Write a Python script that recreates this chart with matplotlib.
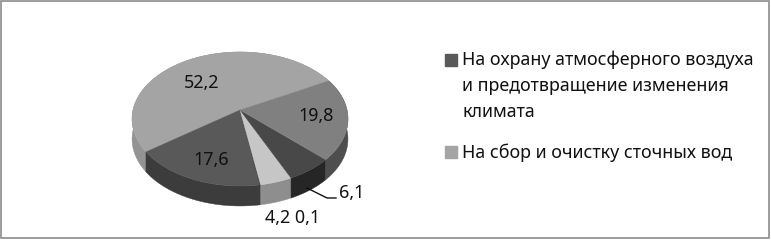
import numpy as np
import matplotlib
matplotlib.use('Agg')
import matplotlib.pyplot as plt
from matplotlib.patches import Rectangle

plt.rcParams['font.family'] = ['Noto Sans', 'DejaVu Sans']

# slices, counter-clockwise from the upper right edge
values = [52.2, 17.6, 0.1, 4.2, 6.1, 19.8]
value_labels = ['52,2', '17,6', '0,1', '4,2', '6,1', '19,8']
top_colors = ['#a4a4a4', '#595959', '#3a3a3a', '#c6c6c6', '#484848', '#808080']
side_colors = ['#939393', '#3c3c3c', '#2a2a2a', '#8e8e8e', '#262626', '#4e4e4e']
legend_labels = ['На охрану атмосферного воздуха\nи предотвращение изменения\nклимата',
                 'На сбор и очистку сточных вод']
legend_colors = ['#595959', '#a4a4a4']

# pie geometry, in pixels
cx, cy = 240, 110
rx, ry = 107, 65.8
persp = 0.134
depth = 20
start = 28
fs = 12.9


# circle point to screen, with a bit of perspective
def project(theta, r=1.0, drop=0):
    x = r * np.cos(np.radians(theta))
    y = r * np.sin(np.radians(theta))
    w = 1 + persp * y
    return cx + rx * x / w, cy - ry * y / w + drop


fig = plt.figure(figsize=(7.71, 2.4), dpi=100)
ax = fig.add_axes([0, 0, 1, 1])
ax.set_xlim(0, 771)
ax.set_ylim(240, 0)
ax.axis('off')

# frame of the picture
ax.add_patch(Rectangle((0.5, 0.5), 768, 237, fill=False, edgecolor='#8c8c8c', linewidth=1.2))

edges = start + np.cumsum([0] + values) * 3.6

# sides first, the top hides the back part
for i in range(len(values)):
    th = np.linspace(edges[i], edges[i + 1], 60)
    x0, y0 = project(th)
    x1, y1 = project(th, drop=depth)
    ax.fill(np.r_[x0, x1[::-1]], np.r_[y0, y1[::-1]], color=side_colors[i], linewidth=0.3)

for i in range(len(values)):
    th = np.linspace(edges[i], edges[i + 1], 60)
    x0, y0 = project(th)
    ax.fill(np.r_[cx, x0], np.r_[cy, y0], color=top_colors[i], linewidth=0.3)

# value labels
ax.text(202, 83, value_labels[0], fontsize=fs, ha='center', va='center', color='#111111')
ax.text(211, 160, value_labels[1], fontsize=fs, ha='center', va='center', color='#111111')
ax.text(316, 116, value_labels[5], fontsize=fs, ha='center', va='center', color='#111111')
ax.text(352, 193, value_labels[4], fontsize=fs, ha='center', va='center', color='#111111')
ax.text(293, 218, value_labels[3] + ' ' + value_labels[2], fontsize=fs, ha='center', va='center', color='#111111')
ax.plot([307, 327, 336], [188, 198, 198], color='#111111', linewidth=1)

# legend
ax.add_patch(Rectangle((445, 54), 12, 12, color=legend_colors[0]))
ax.add_patch(Rectangle((445, 146), 12, 12, color=legend_colors[1]))
for k, line in enumerate(legend_labels[0].split('\n')):
    ax.text(462, 60 + 26 * k, line, fontsize=fs, va='center', color='#111111')
ax.text(462, 152.5, legend_labels[1], fontsize=fs, va='center', color='#111111')

fig.savefig('out.png', dpi=100)
